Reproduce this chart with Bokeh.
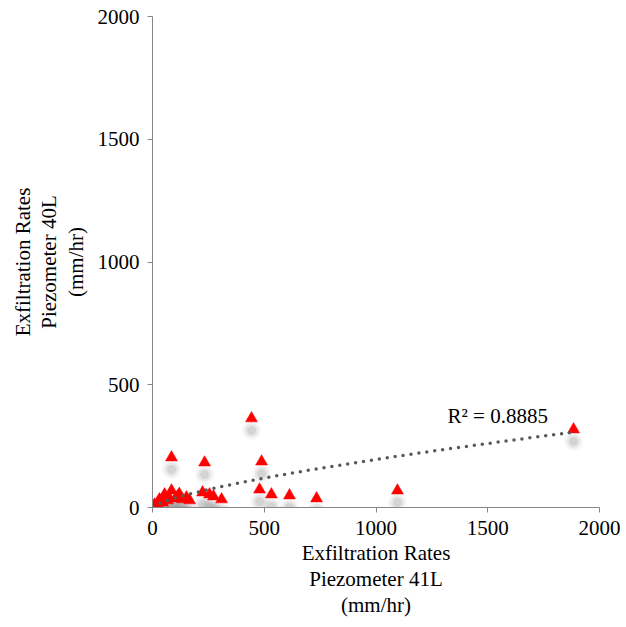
import numpy as np
from bokeh.plotting import figure
from bokeh.models import Range1d, Label, FixedTicker, ColumnDataSource
from bokeh.embed import file_html
from bokeh.resources import INLINE

# Exfiltration rates (mm/hr): Piezometer 41L (x) vs Piezometer 40L (y)
rate_41L = [1884, 1096, 443, 488, 85, 233, 479, 532, 613, 734, 309, 224, 255, 273,
            85, 54, 112, 134, 31, 9, 2, 152, 67, 45, 22, 103, 166, 120, 75, 40]
rate_40L = [318, 69, 363, 187, 204, 183, 73, 53, 49, 37, 33, 61, 53, 45,
            69, 53, 45, 33, 33, 12, 4, 41, 29, 20, 16, 37, 29, 55, 40, 27]

# Power trendline (y = a * x^b), R^2 label
trend_a = 1.45
trend_b = 0.71
r2_text = "R\u00b2 = 0.8885"

x_ticks = [0, 500, 1000, 1500, 2000]
y_ticks = [0, 500, 1000, 1500, 2000]

FONT = "Liberation Serif"

p = figure(frame_width=447, frame_height=491,
           x_range=Range1d(0, 2000), y_range=Range1d(0, 2000),
           output_backend="svg", toolbar_location=None,
           min_border_left=152, min_border_top=16, min_border_right=24,
           min_border_bottom=100, background_fill_color="white",
           border_fill_color="white")
p.outline_line_color = None
p.grid.visible = False

for ax in (p.xaxis[0], p.yaxis[0]):
    ax.axis_line_color = "#868686"
    ax.major_tick_line_color = "#868686"
    ax.major_tick_out = 5
    ax.major_tick_in = 0
    ax.minor_tick_line_color = None
    ax.major_label_text_font = FONT
    ax.major_label_text_font_size = "21px"
    ax.major_label_text_color = "black"
    ax.axis_label_text_font = FONT
    ax.axis_label_text_font_size = "21px"
    ax.axis_label_text_font_style = "normal"
    ax.axis_label_text_color = "black"
    ax.axis_label_text_line_height = 1.09

p.xaxis.ticker = FixedTicker(ticks=x_ticks)
p.yaxis.ticker = FixedTicker(ticks=y_ticks)
p.xaxis.major_label_standoff = 8
p.yaxis.major_label_standoff = 8
p.xaxis.axis_label = "Exfiltration Rates\nPiezometer 41L\n(mm/hr)"
p.yaxis.axis_label = "Exfiltration Rates\nPiezometer 40L\n(mm/hr)"
p.xaxis.axis_label_standoff = 3
p.yaxis.axis_label_standoff = 7

# shadows below markers (offset ~12 px downward)
px_per_unit_y = 491 / 2000.0
shadow_off = 12 / px_per_unit_y
src = ColumnDataSource(dict(x=rate_41L, y=rate_40L,
                            ys=[v - shadow_off for v in rate_40L]))
p.scatter("x", "ys", source=src, marker="circle", size=19,
          fill_color="#8c8c8c", fill_alpha=0.07, line_color=None)
p.scatter("x", "ys", source=src, marker="circle", size=14,
          fill_color="#8c8c8c", fill_alpha=0.14, line_color=None)
p.scatter("x", "ys", source=src, marker="circle", size=9,
          fill_color="#8c8c8c", fill_alpha=0.22, line_color=None)

p.scatter("x", "y", source=src, marker="triangle", size=12,
          fill_color="#FF0000", line_color="#FF0000", line_width=0.5)

# power trendline
xt = np.linspace(max(min(rate_41L), 1), max(rate_41L), 300)
yt = trend_a * xt ** trend_b
p.line(xt, yt, line_color="#595959", line_width=3.5, line_dash="0 8",
       line_cap="round")

p.add_layout(Label(x=1320, y=371, text=r2_text, text_font=FONT,
                   text_font_size="21px", text_baseline="middle",
                   text_align="left", text_color="black"))

open("out.html", "w").write(file_html(p, INLINE))
